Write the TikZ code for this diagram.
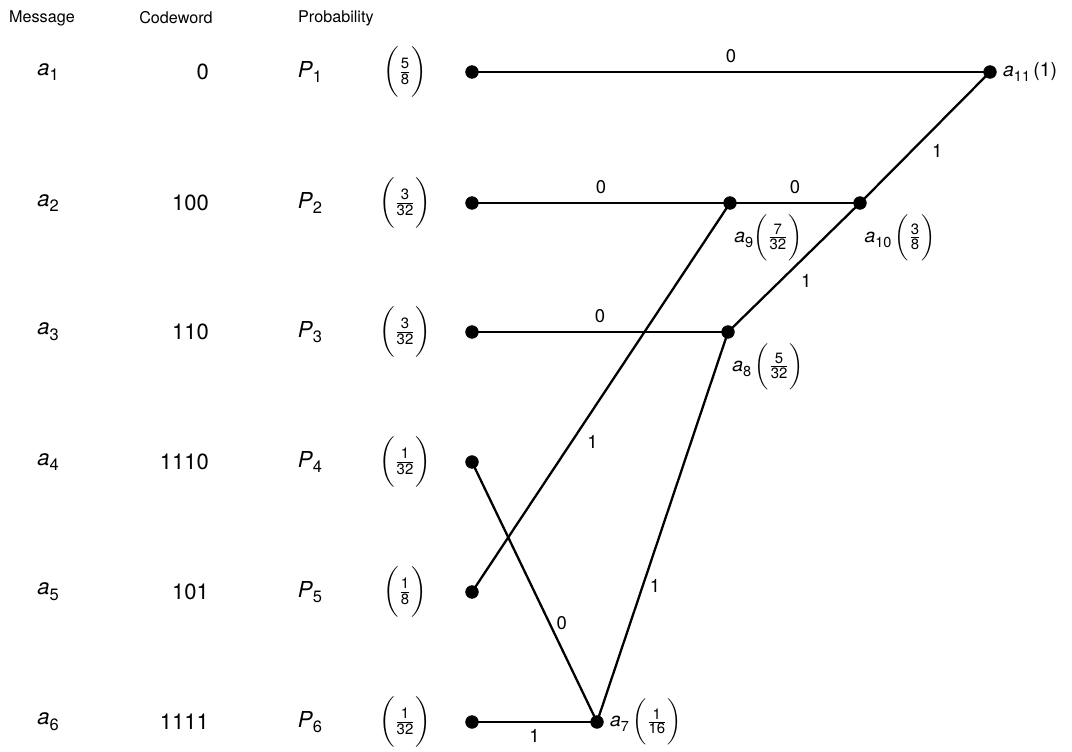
\documentclass[tikz,border=0pt]{standalone}
\usepackage{amsmath}
\usepackage{fontspec}
\setmainfont{TeX Gyre Heros}
\usetikzlibrary{positioning}

\newcommand{\sym}[2]{\textit{#1}\raisebox{-0.5ex}{\fontsize{0.75em}{1em}\selectfont #2}}
\newcommand{\pfrac}[2]{$\left(\vrule height 1.3em depth 0.8em width 0pt
  \genfrac{}{}{}{1}{\text{\fontsize{8.5}{9}\selectfont #1}}{\text{\fontsize{8.5}{9}\selectfont #2}}\right)$}

\begin{document}
\begin{tikzpicture}[x=0.2mm, y=-0.2mm,
    head/.style={font=\fontsize{9.2}{11}\selectfont},
    row/.style={font=\fontsize{12.5}{14}\selectfont},
    tag/.style={font=\fontsize{11}{13}\selectfont},
    bit/.style={font=\fontsize{10.5}{12}\selectfont},
    link/.style={line width=1.3pt},
    dot/.style={fill=black}]
\useasboundingbox (0,0) rectangle (1072,752);
% column heads
\node[head] (hm) at (42,18) {Message};
\node[head] (hc) at (176,18) {Codeword};
\node[head, anchor=west] (hp) at (292,18) {Probability};
% one row per message
\foreach \i/\y/\c/\n/\d in {1/72/0/5/8, 2/203/100/3/32, 3/332/110/3/32,
                            4/462/1110/1/32, 5/592/101/1/8, 6/722/1111/1/32} {
  \node[row] (m\i) at (48,\y) {\sym{a}{\i}};
  \node[row, anchor=east] (c\i) at (215,\y) {\c};
  \node[row] (p\i) at (310,\y) {\sym{P}{\i}};
  \node[row] (f\i) at (405,\y) {\pfrac{\n}{\d}};
  \coordinate (s\i) at (472,\y);
}
% merged nodes
\coordinate (A7) at (597,722);
\coordinate (A8) at (728,332);
\coordinate (A9) at (730,203);
\coordinate (A10) at (860,203);
\coordinate (A11) at (990,72);
\foreach \p in {s1,s2,s3,s4,s5,s6,A7,A8,A9,A10,A11}
  \draw[dot] (\p) circle (3.6pt);
\node[tag, right=4pt of A7] (l7) {\sym{a}{7}\,\pfrac{1}{16}};
\node[tag, below right=3pt and -1pt of A8] (l8) {\sym{a}{8}\,\pfrac{5}{32}};
\node[tag, below right=3pt and -1pt of A9] (l9) {\sym{a}{9}\pfrac{7}{32}};
\node[tag, below=3pt of A10, xshift=8mm] (l10) {\sym{a}{10}\,\pfrac{3}{8}};
\node[tag, right=4pt of A11] (l11) {\sym{a}{11}\,(1)};
% branches
\draw[link] (s1) -- node[bit, above=1pt] {0} (A11);
\draw[link] (s2) -- node[bit, above=1pt] {0} (A9);
\draw[link] (A9) -- node[bit, above=1pt] {0} (A10);
\draw[link] (s3) -- node[bit, above=1pt] {0} (A8);
\draw[link] (A10) -- node[bit, below right] {1} (A11);
\draw[link] (A8) -- node[bit, below right] {1} (A10);
\draw[link] (s5) -- node[bit, pos=.42, below right] {1} (A9);
\draw[link] (s4) -- node[bit, pos=.62, right] {0} (A7);
\draw[link] (A7) -- node[bit, pos=.35, right] {1} (A8);
\draw[link] (s6) -- node[bit, below] {1} (A7);
\end{tikzpicture}
\end{document}
